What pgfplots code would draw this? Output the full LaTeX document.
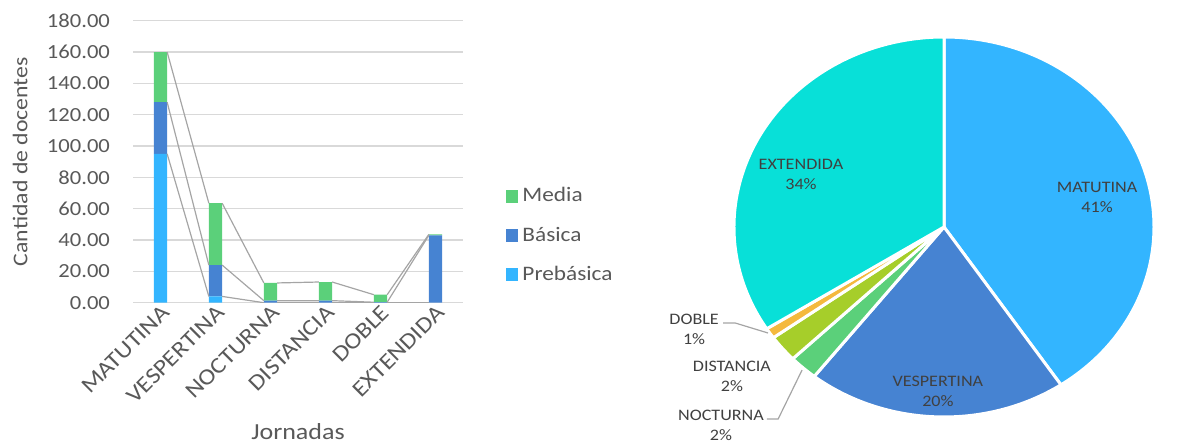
\documentclass[border=0pt]{standalone}
\usepackage{fontspec}
\setmainfont{Carlito}[FakeStretch=1.13]
\usepackage{pgfplots}
\pgfplotsset{compat=1.18}
\usepackage{pgfplotstable}

\definecolor{prebasica}{RGB}{51,181,255}
\definecolor{basica}{RGB}{70,131,210}
\definecolor{media}{RGB}{91,208,122}
\definecolor{distancia}{RGB}{166,206,42}
\definecolor{doble}{RGB}{244,185,62}
\definecolor{extendida}{RGB}{8,224,216}
\definecolor{txtgray}{RGB}{89,89,89}
\definecolor{pietxt}{RGB}{64,64,64}
\definecolor{gridgray}{RGB}{217,217,217}
\definecolor{linegray}{RGB}{165,165,165}

% docentes por jornada y nivel
\pgfplotstableread{
x  preb  bas   med
0  95    33    32
1  4     20    39.5
2  0     1.3   11.3
3  0     1.3   11.9
4  0     0.3   4.8
5  0     43    0.6
}\barData

\pgfplotsset{
  sq/.style={legend image code/.code={\fill[##1] (0pt,-3.2pt) rectangle (6.4pt,3.2pt);}},
}

\begin{document}
\begin{tikzpicture}[x=1pt,y=1pt]
\useasboundingbox (0,0) rectangle (589,221.5);

% barras apiladas
\begin{axis}[
  at={(66.5pt,70.15pt)}, anchor=south west,
  width=165pt, height=141pt, scale only axis,
  ybar stacked, bar width=0.242,
  xmin=-0.5, xmax=5.5, ymin=0, ymax=180,
  ytick={0,20,...,180}, xtick={0,...,5},
  xticklabels={MATUTINA,VESPERTINA,NOCTURNA,DISTANCIA,DOBLE,EXTENDIDA},
  ymajorgrids, grid style={line width=0.7pt, gridgray},
  axis line style={draw=none}, major tick length=0pt,
  yticklabel style={/pgf/number format/fixed, /pgf/number format/fixed zerofill,
    /pgf/number format/precision=2, /pgf/number format/assume math mode=true,
    font=\fontsize{10}{12}\selectfont, text=txtgray, anchor=east, xshift=-8pt},
  xticklabel style={font=\fontsize{11.3}{13}\selectfont, text=txtgray, rotate=45, anchor=east,
    xshift=3pt, yshift=-4pt},
  ylabel={Cantidad de docentes}, xlabel={Jornadas},
  every axis y label/.style={at={(axis description cs:-0.342,0.5)}, rotate=90, anchor=center,
    font=\fontsize{10.5}{12}\selectfont, text=txtgray},
  every axis x label/.style={at={(axis description cs:0.5,-0.4585)}, anchor=center,
    font=\fontsize{11.5}{13}\selectfont, text=txtgray},
  reverse legend, legend cell align=left,
  legend style={draw=none, fill=none, at={(1.11,0.238)}, anchor=west,
    font=\fontsize{10.3}{12}\selectfont, text=txtgray, row sep=7pt,
    /tikz/every even column/.append style={column sep=3pt}},
]
\addplot[fill=prebasica, draw=none, sq] table[x=x, y=preb] {\barData};
\addplot[fill=basica, draw=none, sq] table[x=x, y=bas] {\barData};
\addplot[fill=media, draw=none, sq] table[x=x, y=med] {\barData};
\legend{Prebásica,Básica,Media}
\end{axis}

% líneas de serie
\begin{axis}[
  at={(66.5pt,70.15pt)}, anchor=south west,
  width=165pt, height=141pt, scale only axis,
  xmin=-0.5, xmax=5.5, ymin=0, ymax=180, hide axis,
  unbounded coords=jump,
]
\addplot[linegray, line width=0.6pt] coordinates {
  (0.121,95)(0.879,4)(1,nan)(1.121,4)(1.879,0)(2,nan)(2.121,0)(2.879,0)(3,nan)
  (3.121,0)(3.879,0)(4,nan)(4.121,0)(4.879,0)};
\addplot[linegray, line width=0.6pt] coordinates {
  (0.121,128)(0.879,24)(1,nan)(1.121,24)(1.879,1.3)(2,nan)(2.121,1.3)(2.879,1.3)(3,nan)
  (3.121,1.3)(3.879,0.3)(4,nan)(4.121,0.3)(4.879,43)};
\addplot[linegray, line width=0.6pt] coordinates {
  (0.121,160)(0.879,63.5)(1,nan)(1.121,63.5)(1.879,12.6)(2,nan)(2.121,12.6)(2.879,13.2)(3,nan)
  (3.121,13.2)(3.879,5.1)(4,nan)(4.121,5.1)(4.879,43.6)};
\end{axis}

% torta (porcentaje por jornada)
\begin{axis}[
  at={(367pt,13pt)}, anchor=south west,
  width=210pt, height=190pt, scale only axis,
  xmin=-1, xmax=1, ymin=-1, ymax=1, hide axis, clip=false,
]
\pgfplotsextra{
  \foreach \v/\c [remember=\b as \a (initially 90)] in
    {40.6/prebasica, 20.0/basica, 2.2/media, 2.3/distancia, 0.9/doble, 34.0/extendida} {
    \pgfmathsetmacro\b{\a-3.6*\v}
    \fill[\c, draw=white, line width=1.5pt] (axis cs:0,0) -- (axis cs:{cos(\a)},{sin(\a)})
      arc[start angle=\a, end angle=\b, x radius=105pt, y radius=95pt] -- cycle;
  }
}
\draw[linegray, line width=0.6pt] (axis cs:-1.052,-0.505) -- (axis cs:-0.995,-0.505) -- (axis cs:-0.838,-0.558);
\draw[linegray, line width=0.6pt] (axis cs:-0.843,-1.011) -- (axis cs:-0.790,-1.011) -- (axis cs:-0.676,-0.753);
\begin{scope}[every node/.style={align=center, text=pietxt, font=\fontsize{8}{10}\selectfont}]
\node at (axis cs:-0.681,0.279) {EXTENDIDA\\34\%};
\node at (axis cs:0.729,0.158) {MATUTINA\\41\%};
\node at (axis cs:-0.029,-0.863) {VESPERTINA\\20\%};
\node at (axis cs:-1.190,-0.537) {DOBLE\\1\%};
\node at (axis cs:-1.010,-0.784) {DISTANCIA\\2\%};
\node at (axis cs:-1.062,-1.042) {NOCTURNA\\2\%};
\end{scope}
\end{axis}
\end{tikzpicture}
\end{document}
